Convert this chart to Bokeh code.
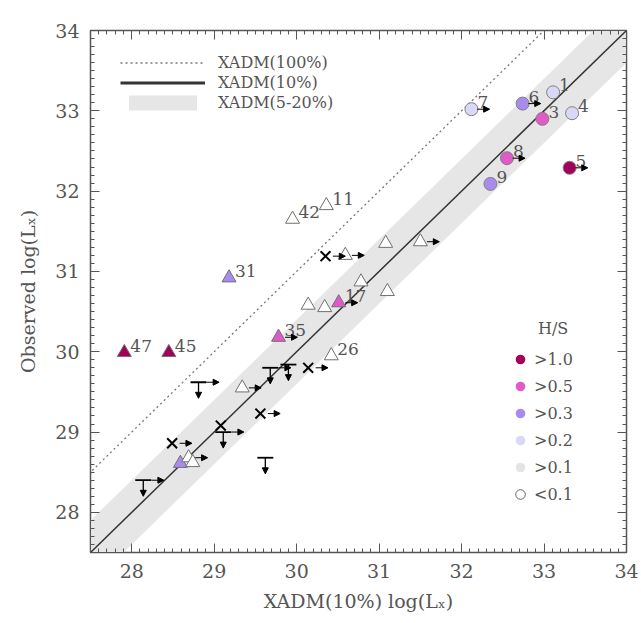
from bokeh.plotting import figure
from bokeh.models import (Range1d, SingleIntervalTicker, LinearAxis, Legend, LegendItem,
                          ColumnDataSource, Arrow, NormalHead, Label)
from bokeh.core.properties import value
from bokeh.embed import file_html
from bokeh.resources import INLINE

NAN = float("nan")

# ---------------- data ----------------
hs_classes = [">1.0", ">0.5", ">0.3", ">0.2", ">0.1", "<0.1"]
hs_colors = ["#a3005a", "#e05ac8", "#a98bf0", "#d9d9f7", "#e4e4e4", "#ffffff"]

# circles (labelled sources)
circ_label = ["1", "6", "3", "4", "7", "8", "9", "5"]
circ_x = [33.11, 32.74, 32.98, 33.34, 32.12, 32.55, 32.35, 33.31]
circ_y = [33.23, 33.09, 32.90, 32.97, 33.02, 32.41, 32.09, 32.29]
circ_hs = [">0.2", ">0.3", ">0.5", ">0.2", ">0.2", ">0.5", ">0.3", ">1.0"]
circ_xlim = [False, True, False, False, True, True, False, True]

# triangles
tri_label = ["31", "47", "45", "35", "17", "", "42", "11", "26", "", "", "", "", "", "", "", "", "", ""]
tri_x = [29.18, 27.91, 28.45, 29.78, 30.51, 28.59, 29.95, 30.36, 30.42, 30.14, 30.34, 30.59,
         31.08, 31.50, 31.10, 30.78, 29.34, 28.69, 28.74]
tri_y = [30.92, 29.99, 29.99, 30.18, 30.61, 28.61, 31.65, 31.82, 29.95, 30.58, 30.55, 31.20,
         31.35, 31.37, 30.75, 30.87, 29.55, 28.68, 28.62]
tri_hs = [">0.3", ">1.0", ">1.0", ">0.5", ">0.5", ">0.3", "<0.1", "<0.1", "<0.1", "<0.1", "<0.1",
          "<0.1", "<0.1", "<0.1", "<0.1", "<0.1", "<0.1", "<0.1", "<0.1"]
tri_xlim = [False, False, False, True, True, False, False, False, False, False, False, True,
            False, True, False, False, True, True, False]

# crosses
x_x = [30.35, 30.14, 29.56, 29.08, 28.49]
x_y = [31.19, 29.80, 29.23, 29.08, 28.86]
x_xlim = [True, True, True, False, True]

# upper limits (T symbols)
ul_x = [28.81, 29.68, 29.90, 29.11, 28.14, 29.62]
ul_y = [29.62, 29.80, 29.84, 29.00, 28.40, 28.68]
ul_xlim = [True, True, False, True, True, False]

# model lines: offsets of log(Lx) relative to XADM(10%)
line_x = [27.0, 35.0]
off_100 = 1.0
band_lo, band_hi = -0.4, 0.4

FONT = "DejaVu Serif"
GREY = "#555555"
cmap = dict(zip(hs_classes, hs_colors))

p = figure(width=641, height=623, x_range=Range1d(27.5, 34), y_range=Range1d(27.5, 34),
           output_backend="svg", toolbar_location=None,
           x_axis_type=None, y_axis_type=None,
           min_border_left=90, min_border_right=15, min_border_top=30, min_border_bottom=71)
p.grid.visible = False
p.outline_line_color = GREY
p.outline_line_width = 1.5
p.background_fill_color = "white"
p.border_fill_color = "white"


def make_axis(show):
    ax = LinearAxis(ticker=SingleIntervalTicker(interval=1, num_minor_ticks=10))
    ax.major_tick_in = 9
    ax.major_tick_out = 0
    ax.minor_tick_in = 4
    ax.minor_tick_out = 0
    ax.axis_line_color = GREY
    ax.major_tick_line_color = GREY
    ax.minor_tick_line_color = GREY
    ax.major_label_text_font = FONT
    ax.major_label_text_color = GREY
    ax.major_label_text_font_size = "19px"
    ax.major_label_standoff = 11 if show else 0
    if not show:
        ax.major_label_overrides = {i: "" for i in range(26, 36)}
    ax.axis_label_text_font = FONT
    ax.axis_label_text_color = GREY
    ax.axis_label_text_font_size = "19px"
    ax.axis_label_text_font_style = "normal"
    return ax


xb = make_axis(True)
xb.axis_label = "XADM(10%) log(Lₓ)"
xb.axis_label_standoff = 9
yl = make_axis(True)
yl.axis_label = "Observed log(Lₓ)"
yl.axis_label_standoff = 13
p.add_layout(xb, "below")
p.add_layout(yl, "left")
p.add_layout(make_axis(False), "above")
p.add_layout(make_axis(False), "right")

# band and lines
band = p.varea(x=line_x, y1=[v + band_lo for v in line_x], y2=[v + band_hi for v in line_x],
               fill_color="#e6e6e6")
p.line(x=line_x, y=line_x, line_color="#333333", line_width=1.5)
p.line(x=line_x, y=[v + off_100 for v in line_x], line_color="#777777", line_width=1.3,
       line_dash="2 3")

# legend dummies for lines (NaN data: nothing drawn in the plot)
l100 = p.line(x=[NAN], y=[NAN], line_color="#777777", line_width=1.3, line_dash="2 3")
l10 = p.line(x=[NAN], y=[NAN], line_color="#333333", line_width=3)
leg1 = Legend(items=[LegendItem(label="XADM(100%)", renderers=[l100]),
                     LegendItem(label="XADM(10%)", renderers=[l10]),
                     LegendItem(label="XADM(5-20%)", renderers=[band])],
              location=(30, 440), margin=0, padding=0, glyph_width=85, glyph_height=19,
              spacing=1, label_standoff=13, border_line_color=None, background_fill_alpha=0,
              label_text_font=FONT, label_text_color=GREY, label_text_font_size="16px")
p.add_layout(leg1)

# arrows (lower limits in x) and down arrows (upper limits in y)
ax_s, ay_s, ax_e = [], [], []
for xs, ys, fl, dx in [(circ_x, circ_y, circ_xlim, 0.07), (tri_x, tri_y, tri_xlim, 0.08),
                       (x_x, x_y, x_xlim, 0.09), (ul_x, ul_y, ul_xlim, 0.1)]:
    for xv, yv, f in zip(xs, ys, fl):
        if f:
            ax_s.append(xv + dx)
            ay_s.append(yv)
            ax_e.append(xv + dx + 0.15)
rsrc = ColumnDataSource(dict(x0=ax_s, y0=ay_s, x1=ax_e, y1=ay_s))
p.add_layout(Arrow(end=NormalHead(size=6, fill_color="black", line_color="black"),
                   x_start="x0", y_start="y0", x_end="x1", y_end="y1", source=rsrc,
                   line_color="black", line_width=1))
dsrc = ColumnDataSource(dict(x0=ul_x, y0=ul_y, x1=ul_x, y1=[v - 0.2 for v in ul_y]))
p.add_layout(Arrow(end=NormalHead(size=6, fill_color="black", line_color="black"),
                   x_start="x0", y_start="y0", x_end="x1", y_end="y1", source=dsrc,
                   line_color="black", line_width=1.3))
p.scatter(x=ul_x, y=ul_y, marker="dash", size=16, line_color="black", line_width=1.8)

# crosses
p.scatter(x=x_x, y=x_y, marker="x", size=14, line_color="black", line_width=2)

# triangles
tsrc = ColumnDataSource(dict(x=tri_x, y=tri_y, c=[cmap[h] for h in tri_hs], t=tri_label))
p.scatter(x="x", y="y", source=tsrc, marker="triangle", size=14, fill_color="c",
          line_color="#707070", line_width=1)
p.text(x="x", y="y", text="t", source=tsrc, x_offset=6, y_offset=-7,
       text_font=value(FONT), text_font_size="17px", text_color=GREY,
       text_baseline="alphabetic")

# circles
csrc = ColumnDataSource(dict(x=circ_x, y=circ_y, c=[cmap[h] for h in circ_hs], t=circ_label))
p.scatter(x="x", y="y", source=csrc, marker="circle", size=13, fill_color="c",
          line_color="#808080", line_width=1)
p.text(x="x", y="y", text="t", source=csrc, x_offset=6, y_offset=-7,
       text_font=value(FONT), text_font_size="17px", text_color=GREY,
       text_baseline="alphabetic")

# H/S legend
hs_items = []
for cls, col in zip(hs_classes, hs_colors):
    if cls == "<0.1":
        r = p.scatter(x=[NAN], y=[NAN], marker="circle", fill_color="white",
                      line_color="#666666", line_width=1)
    else:
        r = p.scatter(x=[NAN], y=[NAN], marker="circle", fill_color=col, line_color=None)
    hs_items.append(LegendItem(label=cls, renderers=[r]))
leg2 = Legend(items=hs_items, location=(418, 45), margin=0, padding=0, glyph_width=24,
              glyph_height=26, spacing=1, label_standoff=2, border_line_color=None,
              background_fill_alpha=0, label_text_font=FONT, label_text_color=GREY,
              label_text_font_size="16px")
p.add_layout(leg2)
p.add_layout(Label(x=33.11, y=30.29, text="H/S", text_font=FONT, text_font_size="16px",
                   text_color=GREY, text_align="center", text_baseline="middle"))

open("out.html", "w").write(file_html(p, INLINE))
